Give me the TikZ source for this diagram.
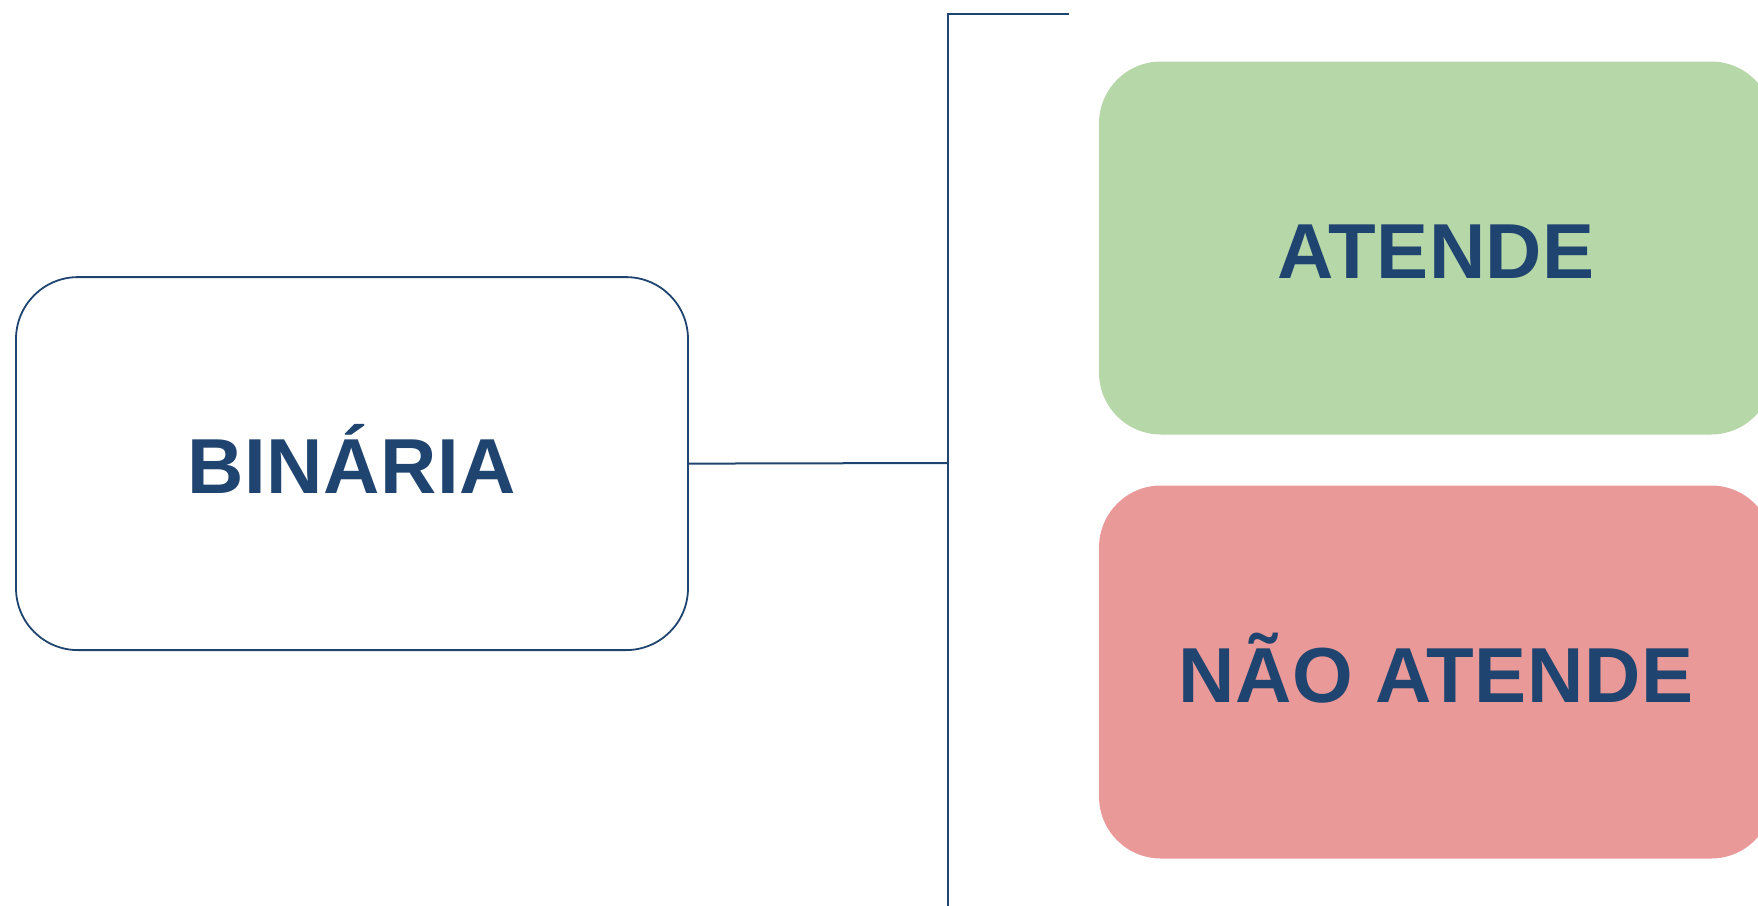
\documentclass[tikz,border=0pt]{standalone}
\usepackage{fontspec}
\setmainfont{Liberation Sans}[LetterSpace=0.8]
\definecolor{navy}{HTML}{1F4470}
\definecolor{okgreen}{HTML}{B6D7A8}
\definecolor{nored}{HTML}{EA9999}
\begin{document}
\begin{tikzpicture}[x=1pt,y=-1pt,
  boxbase/.style={rounded corners=62pt, inner sep=0pt, text height=60pt, text depth=0pt, font=\fontsize{78}{84}\selectfont\bfseries, text=navy},
  leftbox/.style={boxbase, draw=navy, line width=1.8pt, fill=white, minimum width=672pt, minimum height=373pt},
  rightbox/.style={boxbase, minimum width=674pt, minimum height=373pt},
  conn/.style={draw=navy, line width=2pt}]
\useasboundingbox (0,0) rectangle (1758,905);
\clip (0,0) rectangle (1758,905);
\node[leftbox] (bin) at (352,463.6) {BINÁRIA};
\node[rightbox, fill=okgreen] (ok) at (1436,248) {ATENDE};
\node[rightbox, fill=nored] (no) at (1436,672) {NÃO ATENDE};
\coordinate (j) at (947.5,463);
\coordinate (top) at (947.5,13.5);
\coordinate (topend) at (1068.5,13.5);
\coordinate (bot) at (947.5,910);
\draw[conn] (bin.east) -- (j);
\draw[conn] (bot) -- (top) -- (topend);
\end{tikzpicture}
\end{document}
